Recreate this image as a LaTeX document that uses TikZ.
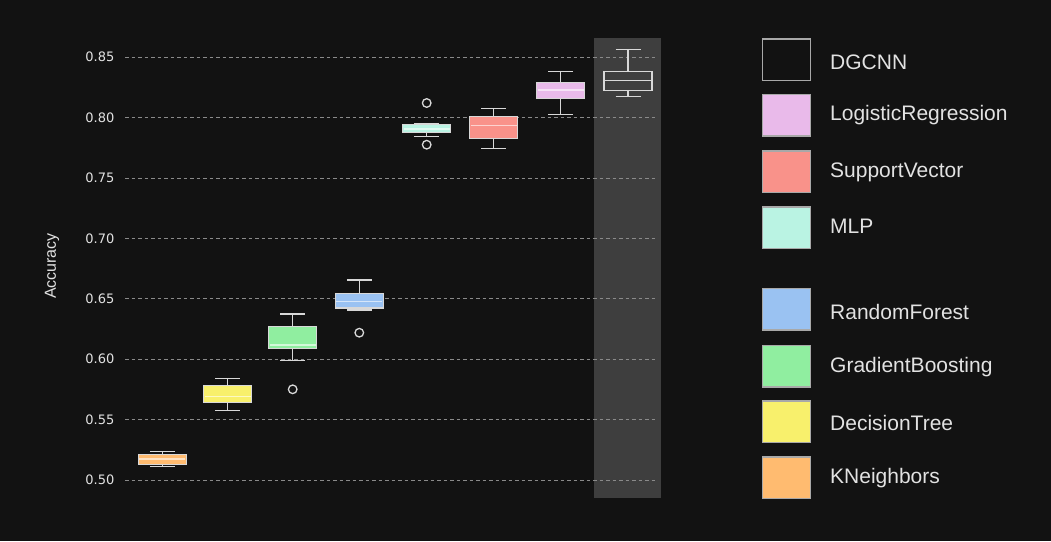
\documentclass[tikz,border=0pt]{standalone}
\usepackage{fontspec}
\setmainfont{Liberation Sans}
\newfontfamily\dvs{DejaVu Sans}
\definecolor{bg}{HTML}{121212}
\definecolor{shadecol}{HTML}{3E3E3E}
\definecolor{gridcol}{HTML}{8A8A8A}
\definecolor{edgecol}{HTML}{D8D8D8}
\definecolor{txtcol}{HTML}{E2E2E2}
\definecolor{legedge}{HTML}{A8A8A8}
\definecolor{knc}{HTML}{FFBB70}
\definecolor{dtc}{HTML}{F8F06C}
\definecolor{gbc}{HTML}{90EEA0}
\definecolor{rfc}{HTML}{9AC2F2}
\definecolor{mlpc}{HTML}{BAF3E3}
\definecolor{svc}{HTML}{F9928A}
\definecolor{lrc}{HTML}{E9BAEA}
\newcommand\bxp[7]{%
  \fill[#7] ({#1-24},#3) rectangle ({#1+24},#5);
  \draw[medline] ({#1-23},#4) -- ({#1+23},#4);
  \draw[edge] ({#1-24},#3) rectangle ({#1+24},#5);
  \draw[edge] (#1,#3) -- (#1,#2) ({#1-12.5},#2) -- ({#1+12.5},#2);
  \draw[edge] (#1,#5) -- (#1,#6) ({#1-12.5},#6) -- ({#1+12.5},#6);
}
\begin{document}
\begin{tikzpicture}[x=1pt,y=-1pt,
  gridln/.style={gridcol,line width=0.9pt,dash pattern=on 3.5pt off 3pt},
  edge/.style={edgecol,line width=1.4pt},
  medline/.style={white,opacity=0.6,line width=1.2pt},
  outl/.style={edgecol,line width=1.3pt},
  ticklab/.style={txtcol,font=\dvs\fontsize{13}{15}\selectfont,anchor=east,inner sep=0pt},
  legbox/.style={legedge,line width=1.3pt},
  legtext/.style={txtcol,font=\fontsize{21}{25}\selectfont,anchor=west,inner sep=0pt}]
\fill[bg] (0,0) rectangle (1051,541);
\useasboundingbox (0,0) rectangle (1051,541);
% highlighted column
\fill[shadecol] (594,38) rectangle (661,498);
% grid
\foreach \yy in {57.2,117.6,178,238.4,298.8,359.2,419.6,480}
  \draw[gridln] (125,\yy) -- (658,\yy);
\node[ticklab] (t85) at (114.5,57.2) {0.85};
\node[ticklab] (t80) at (114.5,117.6) {0.80};
\node[ticklab] (t75) at (114.5,178) {0.75};
\node[ticklab] (t70) at (114.5,238.4) {0.70};
\node[ticklab] (t65) at (114.5,298.8) {0.65};
\node[ticklab] (t60) at (114.5,359.2) {0.60};
\node[ticklab] (t55) at (114.5,419.6) {0.55};
\node[ticklab] (t50) at (114.5,480) {0.50};
\node[txtcol,rotate=90,font=\fontsize{16}{19}\selectfont,inner sep=0pt] (ylab) at (52,266) {Accuracy};
% boxes: x, whisker-low, q1, median, q3, whisker-high, fill
\bxp{162.3}{466.7}{464.7}{459}{454.3}{451.7}{knc}
\bxp{227.7}{410.3}{402.3}{396.7}{385.3}{378.3}{dtc}
\bxp{292.7}{360.7}{348.7}{345}{326.3}{314}{gbc}
\bxp{359.3}{310}{308}{301.7}{293.3}{280}{rfc}
\bxp{426.7}{136.3}{132.3}{129}{124.7}{123.7}{mlpc}
\bxp{493.7}{148.7}{138.3}{125.3}{116.3}{108.3}{svc}
\bxp{560.7}{114.7}{98.3}{90}{82.3}{71.7}{lrc}
% DGCNN (unfilled)
\draw[edge] (604,80.7) -- (652,80.7);
\draw[edge] (604,90.7) rectangle (652,71.3);
\draw[edge] (628,90.7) -- (628,96.3) (615.5,96.3) -- (640.5,96.3);
\draw[edge] (628,71.3) -- (628,49.7) (615.5,49.7) -- (640.5,49.7);
% outliers
\draw[outl] (292.7,389.3) circle (4.3);
\draw[outl] (359.3,332.7) circle (4.3);
\draw[outl] (426.7,103) circle (4.3);
\draw[outl] (426.7,144.7) circle (4.3);
% legend
\draw[legbox] (762.5,39) rectangle (810.5,80.5);
\fill[lrc] (762.5,94.5) rectangle (810.5,136); \draw[legbox] (762.5,94.5) rectangle (810.5,136);
\fill[svc] (762.5,151) rectangle (810.5,192.5); \draw[legbox] (762.5,151) rectangle (810.5,192.5);
\fill[mlpc] (762.5,207) rectangle (810.5,248.5); \draw[legbox] (762.5,207) rectangle (810.5,248.5);
\fill[rfc] (762.5,288.5) rectangle (810.5,330); \draw[legbox] (762.5,288.5) rectangle (810.5,330);
\fill[gbc] (762.5,345.5) rectangle (810.5,387); \draw[legbox] (762.5,345.5) rectangle (810.5,387);
\fill[dtc] (762.5,401) rectangle (810.5,442.5); \draw[legbox] (762.5,401) rectangle (810.5,442.5);
\fill[knc] (762.5,457) rectangle (810.5,498.5); \draw[legbox] (762.5,457) rectangle (810.5,498.5);
\node[legtext] (l1) at (830,62) {DGCNN};
\node[legtext] (l2) at (830,115.5) {LogisticRegression};
\node[legtext] (l3) at (830,172.5) {SupportVector};
\node[legtext] (l4) at (830,226.5) {MLP};
\node[legtext] (l5) at (830,312) {RandomForest};
\node[legtext] (l6) at (830,367) {GradientBoosting};
\node[legtext] (l7) at (830,422.5) {DecisionTree};
\node[legtext] (l8) at (830,478) {KNeighbors};
\end{tikzpicture}
\end{document}
